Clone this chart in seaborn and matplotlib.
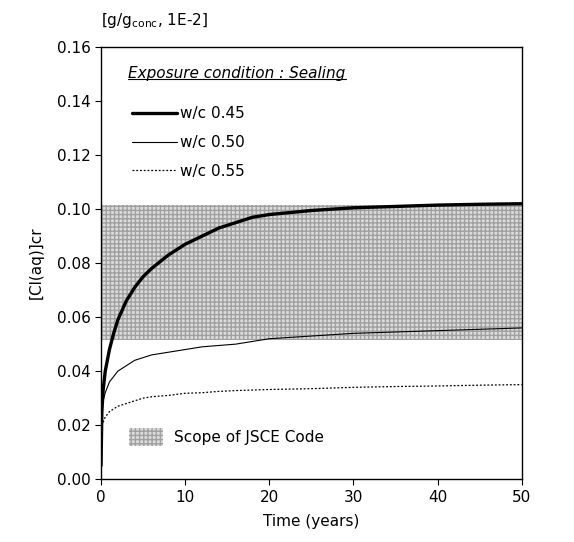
import numpy as np
import pandas as pd
import seaborn as sns
import matplotlib
matplotlib.use("Agg")
import matplotlib.pyplot as plt
from matplotlib.patches import Patch
from matplotlib.lines import Line2D

sns.set_style("ticks")
plt.rcParams['font.family'] = ['DejaVu Sans']
plt.rcParams['text.color'] = 'black'
plt.rcParams['axes.labelcolor'] = 'black'
plt.rcParams['xtick.color'] = 'black'
plt.rcParams['ytick.color'] = 'black'

# data
years = [0, 0.1, 0.25, 0.5, 1, 1.5, 2, 3, 4, 5, 6, 8, 10, 12, 14, 16, 18, 20,
         25, 30, 35, 40, 45, 50]
wc045 = [0.005, 0.025, 0.033, 0.040, 0.048, 0.054, 0.059, 0.066, 0.071, 0.075,
         0.078, 0.083, 0.087, 0.090, 0.093, 0.095, 0.097, 0.098, 0.0995, 0.1005,
         0.101, 0.1015, 0.1018, 0.102]
wc050 = [0.021, 0.026, 0.029, 0.032, 0.036, 0.038, 0.040, 0.042, 0.044, 0.045,
         0.046, 0.047, 0.048, 0.049, 0.0495, 0.050, 0.051, 0.052, 0.053, 0.054,
         0.0545, 0.055, 0.0555, 0.056]
wc055 = [0.017, 0.020, 0.021, 0.023, 0.025, 0.026, 0.027, 0.028, 0.029, 0.030,
         0.0305, 0.031, 0.0318, 0.032, 0.0325, 0.0328, 0.033, 0.0332, 0.0335,
         0.034, 0.0343, 0.0345, 0.0348, 0.035]
series_names = ["w/c 0.45", "w/c 0.50", "w/c 0.55"]
jsce_low = 0.0515
jsce_high = 0.1015

df = pd.DataFrame({
    "t": years * 3,
    "val": wc045 + wc050 + wc055,
    "wc": np.repeat(series_names, len(years)),
})

FS = 11

fig = plt.figure(figsize=(5.74, 5.42), dpi=100)
ax = fig.add_axes([0.176, 0.116, 0.733, 0.797])

band = ax.fill_between([0, 50], jsce_low, jsce_high, facecolor="#dcdcdc",
                       edgecolor="#a0a0a0", hatch="++++", linewidth=0)

sns.lineplot(data=df, x="t", y="val", hue="wc", style="wc",
             palette=["black", "black", "black"],
             dashes={"w/c 0.45": "", "w/c 0.50": "", "w/c 0.55": (1.5, 1.5)},
             size="wc", sizes={"w/c 0.45": 2.4, "w/c 0.50": 0.8, "w/c 0.55": 0.9},
             legend=False, ax=ax)

ax.set_xlim(0, 50)
ax.set_ylim(0, 0.16)
ax.set_xticks([0, 10, 20, 30, 40, 50])
ax.set_yticks(np.arange(0, 0.161, 0.02))
ax.yaxis.set_major_formatter(matplotlib.ticker.FormatStrFormatter("%.2f"))
ax.tick_params(labelsize=FS, direction="out", length=4, width=0.8, color="black")
for s in ax.spines.values():
    s.set_color("black")
    s.set_linewidth(1.0)
ax.set_xlabel("Time (years)", fontsize=FS, labelpad=7)
ax.set_ylabel("[Cl(aq)]cr", fontsize=FS, labelpad=9)

fig.text(0.176, 0.962, r"[g/g$_{\mathrm{conc}}$, 1E-2]", fontsize=FS, va="center")

# legend for curves
handles = [Line2D([], [], color="black", lw=2.4),
           Line2D([], [], color="black", lw=0.8),
           Line2D([], [], color="black", lw=0.9, ls=(0, (1.5, 1.5)))]
leg = ax.legend(handles, series_names, loc="upper left",
                bbox_to_anchor=(0.04, 0.895), frameon=False, fontsize=FS,
                handlelength=3.0, handletextpad=0.15, labelspacing=0.9)

title = ax.text(0.065, 0.94, "Exposure condition : Sealing", transform=ax.transAxes,
                fontsize=FS, style="italic", va="center")
fig.canvas.draw()
bb = title.get_window_extent().transformed(ax.transAxes.inverted())
ax.plot([bb.x0, bb.x1], [bb.y0 + 0.003, bb.y0 + 0.003], color="black", lw=0.8,
        transform=ax.transAxes)

ax.add_artist(leg)
ax.legend([Patch(facecolor="#dcdcdc", edgecolor="#a0a0a0", hatch="++++", lw=0)],
          ["Scope of JSCE Code"], loc="lower left", bbox_to_anchor=(0.035, 0.045),
          frameon=False, fontsize=FS, handlelength=2.2, handleheight=1.4,
          handletextpad=0.7)

fig.savefig("out.png", dpi=100)
